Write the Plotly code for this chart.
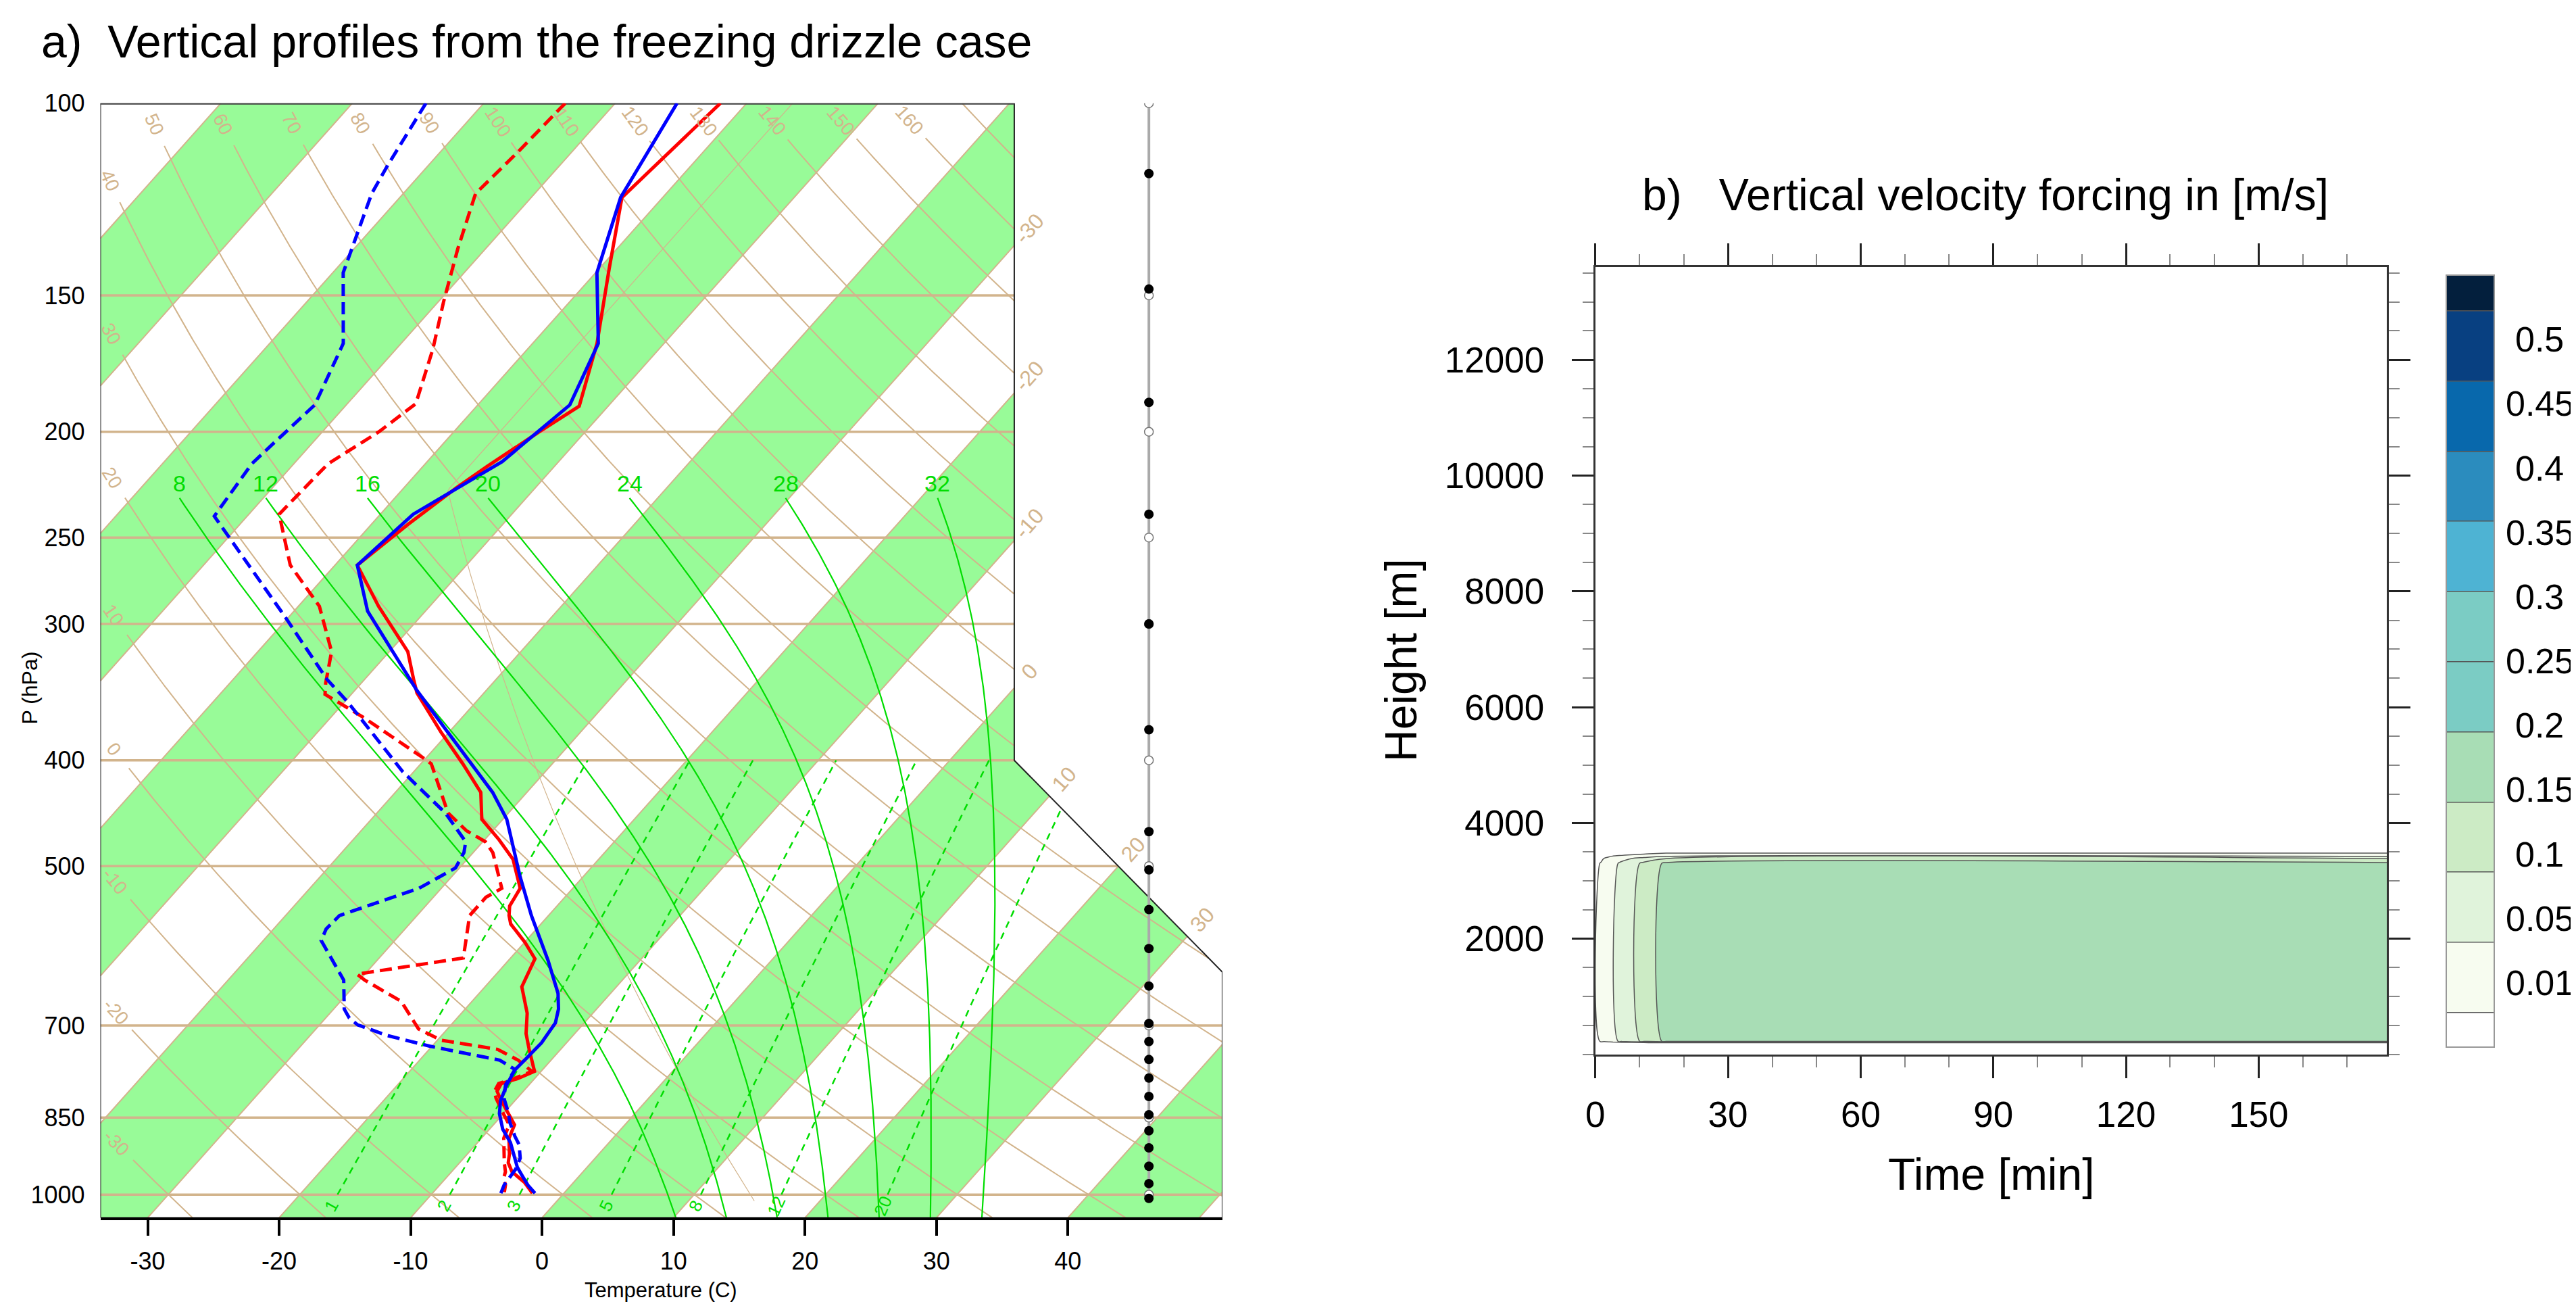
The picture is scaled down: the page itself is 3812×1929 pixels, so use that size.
import numpy as np
import plotly.graph_objects as go

W, H = 3812, 1929
FONT = "Liberation Sans, Arial, Helvetica, sans-serif"
TAN = "#d2b48c"
BAND = "#98fb98"
GREEN = "#00dd00"

# ---------------- panel a: soundings (pressure hPa, temperature degC) ----------------
p_t1 = [100, 122, 142, 166, 189.5, 200, 215, 225, 243, 265, 289, 318, 337, 347, 377,
        403, 428, 453, 473, 493, 524, 544, 555, 565, 587, 608, 645, 682, 712, 736,
        771, 783, 791, 804, 816, 843, 863, 888, 918, 935, 953, 975, 997]
t1 = [-62.0, -63.1, -59.2, -55.1, -52.2, -53.5, -55.1, -56.0, -57.2, -58.3, -53.9, -48.6,
      -46.3, -45.1, -40.6, -36.8, -33.5, -31.6, -28.9, -26.5, -24.0, -23.6, -23.0, -22.3,
      -20.0, -18.1, -17.2, -15.0, -13.7, -12.4, -10.5, -11.3, -12.2, -12.0, -11.3, -9.6,
      -8.4, -7.9, -6.8, -6.3, -5.4, -3.7, -2.4]

p_td1 = [100, 111, 121, 136, 152, 168, 188.5, 200, 214, 238, 265, 289, 318, 340, 348,
         365, 399, 403, 447, 464, 475, 486, 524, 534, 555, 607, 628, 636, 665, 686,
         705, 722, 736, 753, 771, 782, 791, 804, 816, 843, 863, 888, 918, 935, 953,
         966, 980, 995]
td1 = [-73.8, -74.1, -74.5, -72.1, -69.6, -67.2, -64.8, -65.7, -67.4, -67.7, -63.4, -58.4,
       -54.4, -52.7, -52.0, -47.6, -40.0, -39.2, -34.6, -32.0, -29.8, -28.5, -25.4, -26.0,
       -26.0, -23.6, -30.6, -29.6, -25.4, -23.7, -22.2, -19.7, -14.8, -12.5, -10.7, -11.5,
       -12.4, -12.2, -11.6, -10.0, -8.8, -8.3, -7.2, -6.6, -5.9, -5.6, -5.0, -4.6]

p_t2 = [100, 122, 143, 166, 189, 213, 238, 265, 292, 345, 375, 428, 453, 510, 555, 610,
        654, 676, 696, 726, 750, 768, 793, 820, 843, 871, 896, 922, 944, 962, 980, 997]
t2 = [-65.3, -63.2, -59.9, -55.0, -53.0, -54.3, -57.5, -58.3, -54.4, -45.3, -40.4, -32.6,
      -29.7, -24.9, -21.3, -17.0, -14.0, -12.9, -12.2, -11.9, -12.0, -12.1, -11.7, -11.1,
      -10.3, -9.0, -7.5, -6.3, -5.3, -4.3, -3.3, -2.2]

p_td2 = [100, 114, 121, 133, 143, 166, 189, 207, 214, 239, 296, 337, 354, 410, 447, 475,
         486, 502, 524, 555, 571, 585, 636, 676, 689, 699, 715, 731, 753, 768, 793, 816,
         839, 859, 884, 900, 926, 948, 966, 980, 997]
td2 = [-84.4, -83.1, -82.4, -80.6, -79.2, -74.4, -72.4, -73.0, -73.2, -72.5, -60.2, -52.9,
       -49.7, -40.8, -34.8, -31.3, -30.7, -30.3, -31.7, -35.9, -36.0, -35.6, -31.2, -29.2,
       -28.2, -27.1, -24.1, -20.2, -13.9, -12.1, -11.8, -11.0, -9.8, -8.9, -7.6, -6.7,
       -5.7, -5.3, -5.2, -5.1, -4.8]

# calm-wind markers of the wind column
wind_p_dots = [116, 148, 188, 238, 300, 375, 465, 504, 548, 595, 644, 697, 724, 752,
               782, 813, 845, 874, 906, 942, 977, 1008]
wind_p_std = [100, 150, 200, 250, 300, 400, 500, 700, 850, 1000]

pres_ticks = [100, 150, 200, 250, 300, 400, 500, 700, 850, 1000]
temp_ticks = [-30, -20, -10, 0, 10, 20, 30, 40]
isotherm_labels = [-30, -20, -10, 0, 10, 20, 30]
theta_values = list(range(-30, 171, 10))
theta_labelled = list(range(-30, 161, 10))
moist_values = [8, 12, 16, 20, 24, 28, 32]
mixr_values = [1, 2, 3, 5, 8, 12, 20]

# ---------------- panel b: vertical velocity forcing ----------------
time_min = [0, 1, 2, 3, 4, 6, 8, 11, 16, 179]
time_ramp = [0, 0.0625, 0.125, 0.1875, 0.25, 0.375, 0.5, 0.6875, 1, 1]
height_m = [0, 195, 230, 3300, 3320, 3385, 3425, 3490, 3510, 13600]
w_profile = [0, 0, 0.16, 0.16, 0.148, 0.098, 0.048, 0.008, 0, 0]
w_levels = [0.01, 0.05, 0.1, 0.15, 0.2, 0.25, 0.3, 0.35, 0.4, 0.45, 0.5]
w_colors = ["#ffffff", "#f7fcf0", "#e0f3db", "#ccebc5", "#a8ddb5", "#7bccc4",
            "#7bccc4", "#4eb3d3", "#2b8cbe", "#0868ac", "#084081", "#031f3d"]


# ---------------- skew-T geometry ----------------
def sky(p):
    return 132.182 - 44.061 * np.log10(p)


def skx(t, y):
    return 0.54 * np.asarray(t, dtype=float) + 0.90692 * np.asarray(y, dtype=float)


YBOT, YTOP = float(sky(1050.0)), float(sky(100.0))
XMIN = float(skx(-33.6, YBOT))
XMAX = 27.1
X1 = 18.55
Y400 = float(sky(400.0))
DIAG = X1 + Y400
XW = 24.08

PXX = (1793 - 126) / (XMAX - XMIN)
PXY = (1792 - 126) / (YTOP - YBOT)

FRAME = [(XMIN, YBOT), (XMAX, YBOT), (XMAX, DIAG - XMAX), (X1, Y400), (X1, YTOP), (XMIN, YTOP)]


def inside(x, y):
    e = 1e-9
    return ((x >= XMIN - e) & (x <= XMAX + e) & (y >= YBOT - e) & (y <= YTOP + e)
            & ((x <= X1 + e) | (x + y <= DIAG + e)))


def clip_segments(xs, ys):
    xs = np.asarray(xs, dtype=float)
    ys = np.asarray(ys, dtype=float)
    ins = inside(xs, ys)
    segs, cur = [], []
    for i in range(len(xs)):
        if i > 0 and ins[i] != ins[i - 1]:
            xa, ya, xb, yb = xs[i - 1], ys[i - 1], xs[i], ys[i]
            lo, hi = 0.0, 1.0
            for _ in range(40):
                m = 0.5 * (lo + hi)
                if bool(inside(xa + (xb - xa) * m, ya + (yb - ya) * m)) == bool(ins[i - 1]):
                    lo = m
                else:
                    hi = m
            m = lo if ins[i - 1] else hi
            cur.append((xa + (xb - xa) * m, ya + (yb - ya) * m))
            if ins[i - 1]:
                segs.append(cur)
                cur = []
        if ins[i]:
            cur.append((xs[i], ys[i]))
    if cur:
        segs.append(cur)
    return [s for s in segs if len(s) > 1]


def sh_clip(subject, clip):
    out = list(subject)
    for i in range(len(clip)):
        a, b = clip[i], clip[(i + 1) % len(clip)]
        inp, out = out, []
        if not inp:
            break

        def side(q):
            return (b[0] - a[0]) * (q[1] - a[1]) - (b[1] - a[1]) * (q[0] - a[0])

        s = inp[-1]
        for e in inp:
            ds, de = side(s), side(e)
            if de >= 0:
                if ds < 0:
                    t = ds / (ds - de)
                    out.append((s[0] + t * (e[0] - s[0]), s[1] + t * (e[1] - s[1])))
                out.append(e)
            elif ds >= 0:
                t = ds / (ds - de)
                out.append((s[0] + t * (e[0] - s[0]), s[1] + t * (e[1] - s[1])))
            s = e
    return out


def seg_xy(segs):
    xs, ys = [], []
    for s in segs:
        xs += [q[0] for q in s] + [None]
        ys += [q[1] for q in s] + [None]
    return xs, ys


def cut_end(seg, gap, at):
    pts = np.array(seg)[::-1]
    d = np.hypot(np.diff(pts[:, 0]) * PXX, np.diff(pts[:, 1]) * PXY)
    cum = np.concatenate([[0.0], np.cumsum(d)])

    def pt(s):
        return float(np.interp(s, cum, pts[:, 0])), float(np.interp(s, cum, pts[:, 1]))

    lx, ly = pt(at)
    ax, ay = pt(at - 8)
    bx, by = pt(at + 8)
    ang = float(np.degrees(np.arctan2(-(by - ay) * PXY, (bx - ax) * PXX)))
    keep = [tuple(q) for q in pts[cum >= gap][::-1]]
    keep.append(pt(gap))
    return keep, lx, ly, ang


def moist_adiabat(tw):
    def f(T, p):
        es = 6.112 * np.exp(17.67 * (T - 273.15) / (T - 29.65))
        rs = 0.622 * es / (p - es)
        return (287.04 * T + 2.501e6 * rs) / (1005.7 + 2.501e6 ** 2 * rs * 0.622 / (287.04 * T * T)) / p

    def run(p0, p1, n):
        ps = np.linspace(p0, p1, n + 1)
        T = tw + 273.15
        out = [T]
        for i in range(n):
            h, p = ps[i + 1] - ps[i], ps[i]
            k1 = f(T, p)
            k2 = f(T + h / 2 * k1, p + h / 2)
            k3 = f(T + h / 2 * k2, p + h / 2)
            k4 = f(T + h * k3, p + h)
            T = T + h / 6 * (k1 + 2 * k2 + 2 * k3 + k4)
            out.append(T)
        return ps, np.array(out)

    pu, tu = run(1000.0, 230.0, 385)
    pd, td = run(1000.0, 1050.0, 25)
    p = np.concatenate([pd[::-1], pu[1:]])
    t = np.concatenate([td[::-1], tu[1:]]) - 273.15
    return p, t


def mixr_td(w, p):
    e = w * 1e-3 * p / (0.622 + w * 1e-3)
    a = np.log(e / 6.112)
    return 243.5 * a / (17.67 - a)


def lab(x, y, text, size, color, angle=0.0, xref="x", yref="y", xanchor="center"):
    return dict(x=x, y=y, xref=xref, yref=yref, text=text, showarrow=False,
                textangle=angle, xanchor=xanchor, yanchor="middle",
                font=dict(family=FONT, size=size, color=color))


def paper(xp, yp):
    return xp / W, 1 - yp / H


fig = go.Figure()
ann = []


def add_lines(segs, color, width, dash=None):
    xs, ys = seg_xy(segs)
    fig.add_trace(go.Scatter(x=xs, y=ys, mode="lines", xaxis="x", yaxis="y",
                             line=dict(color=color, width=width, dash=dash),
                             hoverinfo="skip", showlegend=False))


# shaded isotherm bands
bx, by = [], []
for t0 in range(-120, 41, 20):
    band = [(float(skx(t0, YBOT)), YBOT), (float(skx(t0 + 10, YBOT)), YBOT),
            (float(skx(t0 + 10, YTOP)), YTOP), (float(skx(t0, YTOP)), YTOP)]
    poly = sh_clip(FRAME, band)
    if len(poly) > 2:
        bx += [q[0] for q in poly] + [poly[0][0], None]
        by += [q[1] for q in poly] + [poly[0][1], None]
fig.add_trace(go.Scatter(x=bx, y=by, mode="lines", fill="toself", fillcolor=BAND,
                         line=dict(width=0, color=BAND), hoverinfo="skip", showlegend=False))

# isotherms
yy = np.linspace(YBOT, YTOP, 400)
segs = []
for t0 in range(-110, 51, 10):
    segs += clip_segments(skx(t0, yy), yy)
add_lines(segs, TAN, 2)

# isobars
xx = np.linspace(XMIN, XMAX, 600)
segs = []
for p in pres_ticks[1:]:
    segs += clip_segments(xx, np.full_like(xx, sky(p)))
add_lines(segs, TAN, 3.5)

# dry adiabats
pp = np.logspace(np.log10(1050), np.log10(100), 500)
segs = []
for th in theta_values:
    tt = (th + 273.15) * (pp / 1000.0) ** 0.2857 - 273.15
    pieces = clip_segments(skx(tt, sky(pp)), sky(pp))
    if th in theta_labelled and pieces:
        keep, lx, ly, ang = cut_end(pieces[-1], 70, 34)
        pieces[-1] = keep
        ann.append(lab(lx, ly, str(th), 28, TAN, ang))
    segs += pieces
add_lines(segs, TAN, 2)

# standard atmosphere
ps = np.logspace(np.log10(1013.25), 2, 400)
ts = np.maximum(288.15 * (ps / 1013.25) ** 0.190263 - 273.15, -56.5)
add_lines(clip_segments(skx(ts, sky(ps)), sky(ps)), TAN, 1.2)

# mixing ratio lines
pm = np.linspace(1000, 400, 120)
segs = []
for w in mixr_values:
    segs += clip_segments(skx(mixr_td(w, pm), sky(pm)), sky(pm))
    xa, ya = float(skx(mixr_td(w, 1030.0), sky(1030.0))), float(sky(1030.0))
    xb, yb = float(skx(mixr_td(w, 1018.0), sky(1018.0))), float(sky(1018.0))
    ang = -float(np.degrees(np.arctan2((yb - ya) * PXY, (xb - xa) * PXX)))
    ann.append(lab(float(skx(mixr_td(w, 1024.0), sky(1024.0))), float(sky(1024.0)),
                   str(w), 26, GREEN, ang))
add_lines(segs, GREEN, 2.5, "10px,8px")

# moist adiabats
segs = []
for tw in moist_values:
    pw, tws = moist_adiabat(tw)
    segs += clip_segments(skx(tws, sky(pw)), sky(pw))
    ann.append(lab(float(skx(tws[-1], sky(pw[-1]))), float(sky(223.0)), str(tw), 34, GREEN))
add_lines(segs, GREEN, 2.2)

# isotherm labels outside the right edge
iso_ang = -float(np.degrees(np.arctan2(PXY, 0.90692 * PXX)))
step = 34.0 / np.hypot(0.90692 * PXX, PXY)
for t0 in isotherm_labels:
    yc = (X1 - 0.54 * t0) / 0.90692
    if Y400 <= yc <= YTOP:
        xc = X1
    else:
        yc = (DIAG - 0.54 * t0) / 1.90692
        xc = DIAG - yc
    ann.append(lab(xc + 0.90692 * step, yc + step, str(t0), 32, TAN, iso_ang))

# frame outline
fx = [q[0] for q in FRAME] + [FRAME[0][0]]
fy = [q[1] for q in FRAME] + [FRAME[0][1]]
fig.add_trace(go.Scatter(x=fx, y=fy, mode="lines", line=dict(color="#222222", width=2),
                         hoverinfo="skip", showlegend=False))
fig.add_trace(go.Scatter(x=[XMIN, X1], y=[YTOP, YTOP], mode="lines",
                         line=dict(color="#444444", width=4), hoverinfo="skip", showlegend=False))

# wind column with calm-wind circles
fig.add_trace(go.Scatter(x=[XW, XW], y=[sky(100), sky(1000)], mode="lines",
                         line=dict(color="#aaaaaa", width=4), hoverinfo="skip", showlegend=False))
fig.add_trace(go.Scatter(x=[XW] * len(wind_p_std), y=sky(np.array(wind_p_std, float)),
                         mode="markers", marker=dict(symbol="circle", size=13, color="white",
                                                     line=dict(color="#777777", width=1.5)),
                         hoverinfo="skip", showlegend=False))
fig.add_trace(go.Scatter(x=[XW] * len(wind_p_dots), y=sky(np.array(wind_p_dots, float)),
                         mode="markers", marker=dict(symbol="circle", size=14, color="black"),
                         hoverinfo="skip", showlegend=False))

# soundings
for pv, tv, col, dash in [(p_t1, t1, "#ff0000", None), (p_td1, td1, "#ff0000", "18px,9px"),
                          (p_t2, t2, "#0000ff", None), (p_td2, td2, "#0000ff", "18px,9px")]:
    yv = sky(np.array(pv, float))
    fig.add_trace(go.Scatter(x=skx(tv, yv), y=yv, mode="lines",
                             line=dict(color=col, width=5, dash=dash),
                             hoverinfo="skip", showlegend=False))

# ---------------- panel b contour ----------------
w_field = np.outer(w_profile, time_ramp)
w_idx = np.interp(w_field, [0.0] + w_levels, list(range(-1, len(w_levels))))
n = len(w_colors)
cscale = []
for k, c in enumerate(w_colors):
    lo = max(0.0, (k - 0.5) / (n - 1))
    hi = min(1.0, (k + 0.5) / (n - 1))
    cscale += [[lo, c], [hi, c]]

CB_TOP, CB_BOT = 383, 1537
fig.add_trace(go.Contour(
    x=time_min, y=height_m, z=w_idx, xaxis="x2", yaxis="y2",
    autocontour=False, contours=dict(start=0, end=len(w_levels) - 1, size=1, coloring="fill"),
    line=dict(color="#555555", width=1.5), colorscale=cscale, hoverinfo="skip",
    colorbar=dict(x=3611 / W, xanchor="left", y=1 - (CB_TOP + CB_BOT) / 2 / H, yanchor="middle",
                  len=(CB_BOT - CB_TOP) / H, lenmode="fraction", thickness=71,
                  thicknessmode="pixels", outlinecolor="#999999", outlinewidth=2,
                  xpad=0, ypad=0, showticklabels=False, ticks=""),
))

# colour bar labels, centred on the box boundaries
box_h = (CB_BOT - CB_TOP) / n
for k, v in enumerate(w_levels):
    xq, yq = paper(3750, CB_BOT - (k + 1) * box_h)
    ann.append(lab(xq, yq, f"{v:g}", 52, "black", 0, "paper", "paper"))

# ---------------- layout ----------------
ax_r = dict(showgrid=False, zeroline=False, showline=True, mirror="allticks",
            linecolor="#333333", linewidth=3, ticks="outside", ticklen=32, tickwidth=3,
            tickcolor="#222222", tickfont=dict(family=FONT, size=53, color="black"))

fig.update_layout(
    width=W, height=H, margin=dict(l=0, r=0, t=0, b=0),
    paper_bgcolor="white", plot_bgcolor="rgba(0,0,0,0)", showlegend=False,
    font=dict(family=FONT, color="black"),
    xaxis=dict(domain=[126 / W, 1793 / W], range=[XMIN, XMAX], anchor="y",
               showgrid=False, zeroline=False, showline=True, linecolor="black", linewidth=4,
               ticks="outside", ticklen=23, tickwidth=4, tickcolor="black",
               tickvals=list(skx(temp_ticks, YBOT)), ticktext=[str(t) for t in temp_ticks],
               tickfont=dict(family=FONT, size=36, color="black"), ticklabelstandoff=6),
    yaxis=dict(domain=[1 - 1792 / H, 1 - 126 / H], range=[YBOT, YTOP], anchor="x",
               showgrid=False, zeroline=False, showline=False, ticks="",
               tickvals=list(sky(np.array(pres_ticks, float))), ticktext=[str(p) for p in pres_ticks],
               tickfont=dict(family=FONT, size=36, color="black"), ticklabelstandoff=22),
    xaxis2=dict(domain=[2347 / W, 3523 / W], range=[0, 179], anchor="y2",
                tickvals=[0, 30, 60, 90, 120, 150], ticktext=["0", "30", "60", "90", "120", "150"],
                minor=dict(tickmode="linear", tick0=0, dtick=10, ticks="outside", ticklen=16,
                           tickwidth=2, tickcolor="#888888"),
                ticklabelstandoff=8, **ax_r),
    yaxis2=dict(domain=[1 - 1548 / H, 1 - 371 / H], range=[0, 13600], anchor="x2",
                tickvals=[2000, 4000, 6000, 8000, 10000, 12000],
                ticktext=["2000", "4000", "6000", "8000", "10000", "12000"],
                minor=dict(tickmode="linear", tick0=0, dtick=500, ticks="outside", ticklen=16,
                           tickwidth=2, tickcolor="#888888"),
                ticklabelstandoff=30, **ax_r),
)

# titles and axis labels
for xp, yp, text, size, angle, anchor in [
    (36, 33, "a)  Vertical profiles from the freezing drizzle case", 68, 0, "left"),
    (21, 1000, "P (hPa)", 32, -90, "center"),
    (959, 1900, "Temperature (C)", 31, 0, "center"),
    (2927, 263, "b)   Vertical velocity forcing in [m/s]", 66, 0, "center"),
    (2058, 958, "Height [m]", 66, -90, "center"),
    (2936, 1727, "Time [min]", 66, 0, "center"),
]:
    xq, yq = paper(xp, yp)
    ann.append(lab(xq, yq, text, size, "black", angle, "paper", "paper", anchor))

fig.update_layout(annotations=ann)
fig.write_html("out.html")
